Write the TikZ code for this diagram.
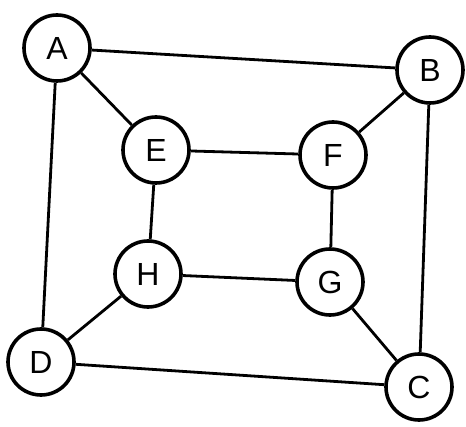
\documentclass[tikz,border=0pt]{standalone}
\usepackage{fontspec}
\setmainfont{Liberation Sans}
\begin{document}
\begin{tikzpicture}[x=1pt,y=-1pt,
  vert/.style={circle,draw=black,line width=3.6pt,minimum size=66pt,inner sep=0pt,fill=white,font=\fontsize{32}{36}\selectfont},
  edge/.style={line width=2.8pt,draw=black}]
\useasboundingbox (0,0) rectangle (466,427);
\node[vert] (A) at (57,48) {A};
\node[vert] (B) at (430,70) {B};
\node[vert] (E) at (156,150) {E};
\node[vert] (F) at (333,155) {F};
\node[vert] (H) at (148,274) {H};
\node[vert] (G) at (330,282) {G};
\node[vert] (D) at (41,362) {D};
\node[vert] (C) at (419,387) {C};
\draw[edge] (A) -- (B);
\draw[edge] (A) -- (E);
\draw[edge] (A) -- (D);
\draw[edge] (B) -- (F);
\draw[edge] (B) -- (C);
\draw[edge] (E) -- (F);
\draw[edge] (E) -- (H);
\draw[edge] (F) -- (G);
\draw[edge] (H) -- (G);
\draw[edge] (H) -- (D);
\draw[edge] (G) -- (C);
\draw[edge] (D) -- (C);
\end{tikzpicture}
\end{document}
